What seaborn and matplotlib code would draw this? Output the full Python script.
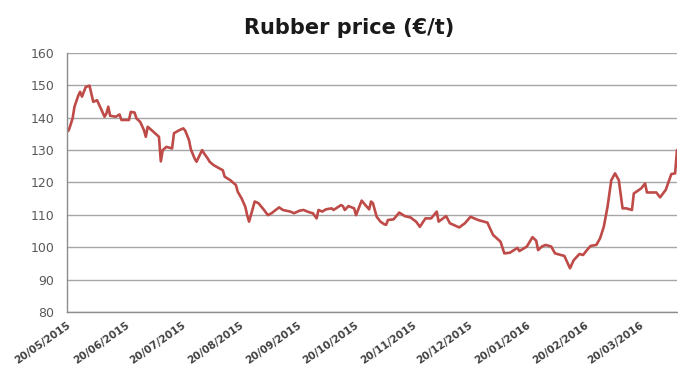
import seaborn as sns
import matplotlib.pyplot as plt
import matplotlib.dates as mdates
import pandas as pd

# values (€/t)
dates = ['2015-05-20', '2015-05-21', '2015-05-23', '2015-05-24', '2015-05-26', '2015-05-27',
         '2015-05-28', '2015-05-30', '2015-06-01', '2015-06-03', '2015-06-05', '2015-06-07',
         '2015-06-09', '2015-06-10', '2015-06-11', '2015-06-12', '2015-06-15', '2015-06-17',
         '2015-06-18', '2015-06-22', '2015-06-23', '2015-06-25', '2015-06-26', '2015-06-28',
         '2015-06-30', '2015-07-01', '2015-07-02', '2015-07-04', '2015-07-08', '2015-07-09',
         '2015-07-10', '2015-07-12', '2015-07-15', '2015-07-16', '2015-07-19', '2015-07-21',
         '2015-07-22', '2015-07-24', '2015-07-25', '2015-07-27', '2015-07-28', '2015-07-31',
         '2015-08-01', '2015-08-03', '2015-08-04', '2015-08-06', '2015-08-09', '2015-08-11',
         '2015-08-12', '2015-08-15', '2015-08-18', '2015-08-19', '2015-08-20', '2015-08-21',
         '2015-08-23', '2015-08-24', '2015-08-25', '2015-08-26', '2015-08-28', '2015-08-30',
         '2015-09-02', '2015-09-04', '2015-09-06', '2015-09-10', '2015-09-12', '2015-09-16',
         '2015-09-18', '2015-09-21', '2015-09-23', '2015-09-26', '2015-09-28', '2015-09-30',
         '2015-10-01', '2015-10-03', '2015-10-05', '2015-10-08', '2015-10-09', '2015-10-13',
         '2015-10-14', '2015-10-15', '2015-10-17', '2015-10-20', '2015-10-21', '2015-10-24',
         '2015-10-26', '2015-10-28', '2015-10-29', '2015-10-30', '2015-11-01', '2015-11-03',
         '2015-11-05', '2015-11-06', '2015-11-07', '2015-11-10', '2015-11-13', '2015-11-16',
         '2015-11-19', '2015-11-22', '2015-11-24', '2015-11-27', '2015-11-30', '2015-12-03',
         '2015-12-04', '2015-12-08', '2015-12-10', '2015-12-15', '2015-12-18', '2015-12-21',
         '2015-12-25', '2015-12-30', '2015-12-31', '2016-01-02', '2016-01-06', '2016-01-08',
         '2016-01-11', '2016-01-15', '2016-01-16', '2016-01-20', '2016-01-23', '2016-01-25',
         '2016-01-26', '2016-01-28', '2016-01-30', '2016-02-02', '2016-02-04', '2016-02-09',
         '2016-02-12', '2016-02-14', '2016-02-17', '2016-02-19', '2016-02-21', '2016-02-23',
         '2016-02-26', '2016-02-28', '2016-03-01', '2016-03-03', '2016-03-05', '2016-03-07',
         '2016-03-09', '2016-03-11', '2016-03-13', '2016-03-16', '2016-03-17', '2016-03-21',
         '2016-03-23', '2016-03-24', '2016-03-29', '2016-03-31', '2016-04-03', '2016-04-06',
         '2016-04-08', '2016-04-09']
prices = [135.6, 136.2, 139.8, 143.4, 146.8, 148.0,
          146.5, 149.5, 149.9, 144.9, 145.4, 142.9,
          140.3, 141.3, 143.4, 140.6, 140.3, 141.0,
          139.3, 139.3, 141.8, 141.6, 139.8, 138.7,
          136.2, 134.1, 137.2, 136.2, 134.1, 126.5,
          130.0, 131.0, 130.5, 135.2, 136.2, 136.7,
          136.0, 133.1, 130.2, 127.4, 126.4, 130.0,
          129.0, 127.4, 126.4, 125.4, 124.4, 123.8,
          121.8, 120.7, 119.2, 117.1, 116.1, 115.1,
          112.5, 109.9, 107.9, 109.9, 114.1, 113.6,
          111.5, 109.9, 110.5, 112.3, 111.5, 111.0,
          110.5, 111.3, 111.5, 110.8, 110.5, 108.9,
          111.5, 111.0, 111.7, 112.0, 111.5, 113.0,
          112.7, 111.5, 112.7, 112.0, 109.9, 114.4,
          113.0, 111.7, 114.1, 113.6, 109.4, 107.9,
          107.1, 106.9, 108.4, 108.6, 110.7, 109.6,
          109.2, 107.9, 106.3, 108.9, 108.9, 111.0,
          107.9, 109.6, 107.4, 106.1, 107.4, 109.4,
          108.4, 107.6, 106.3, 103.8, 101.7, 98.1,
          98.3, 99.8, 98.8, 100.2, 103.1, 102.0,
          99.1, 100.2, 100.7, 100.2, 98.1, 97.3,
          93.5, 96.0, 97.9, 97.6, 99.1, 100.4,
          100.7, 102.7, 106.3, 112.5, 120.7, 122.8,
          120.7, 112.0, 112.0, 111.5, 116.6, 118.2,
          119.7, 116.9, 116.9, 115.4, 117.7, 122.6,
          122.8, 130.0]

# ticks on the 20th of each month
tick_dates = pd.date_range('2015-05-01', '2016-03-01', freq='MS') + pd.Timedelta(days=19)

df = pd.DataFrame({'date': pd.to_datetime(dates), 'price': prices})

sns.set_style('white')
plt.rcParams['font.family'] = ['DejaVu Sans']

fig = plt.figure(figsize=(6.78, 3.67), dpi=100)
ax = fig.add_axes([0.0988, 0.15, 0.8997, 0.7057])

sns.lineplot(data=df, x='date', y='price', color='#BE4B48', linewidth=1.9, ax=ax)

ax.set_ylim(80, 160)
ax.set_yticks(range(80, 161, 10))
ax.set_xlim(pd.Timestamp('2015-05-20'), pd.Timestamp('2016-04-09'))
ax.set_xticks(tick_dates)
ax.xaxis.set_major_formatter(mdates.DateFormatter('%d/%m/%Y'))

ax.grid(axis='y', color='#a6a6a6', linewidth=1)
ax.set_axisbelow(True)
for s in ['top', 'right']:
    ax.spines[s].set_visible(False)
for s in ['left', 'bottom']:
    ax.spines[s].set_color('#8c8c8c')
    ax.spines[s].set_linewidth(1)

ax.tick_params(axis='y', length=4, color='#8c8c8c', labelsize=9, labelcolor='#595959', pad=5)
ax.tick_params(axis='x', length=4, color='#8c8c8c', labelsize=7.5, labelcolor='#404040', pad=2)
plt.setp(ax.get_xticklabels(), rotation=35, ha='right', rotation_mode='anchor', fontweight='bold')

ax.set_xlabel('')
ax.set_ylabel('')
fig.suptitle('Rubber price (€/t)', fontsize=15, fontweight='bold', x=0.515, y=0.95, color='#1a1a1a')

plt.savefig('out.png', dpi=100)
